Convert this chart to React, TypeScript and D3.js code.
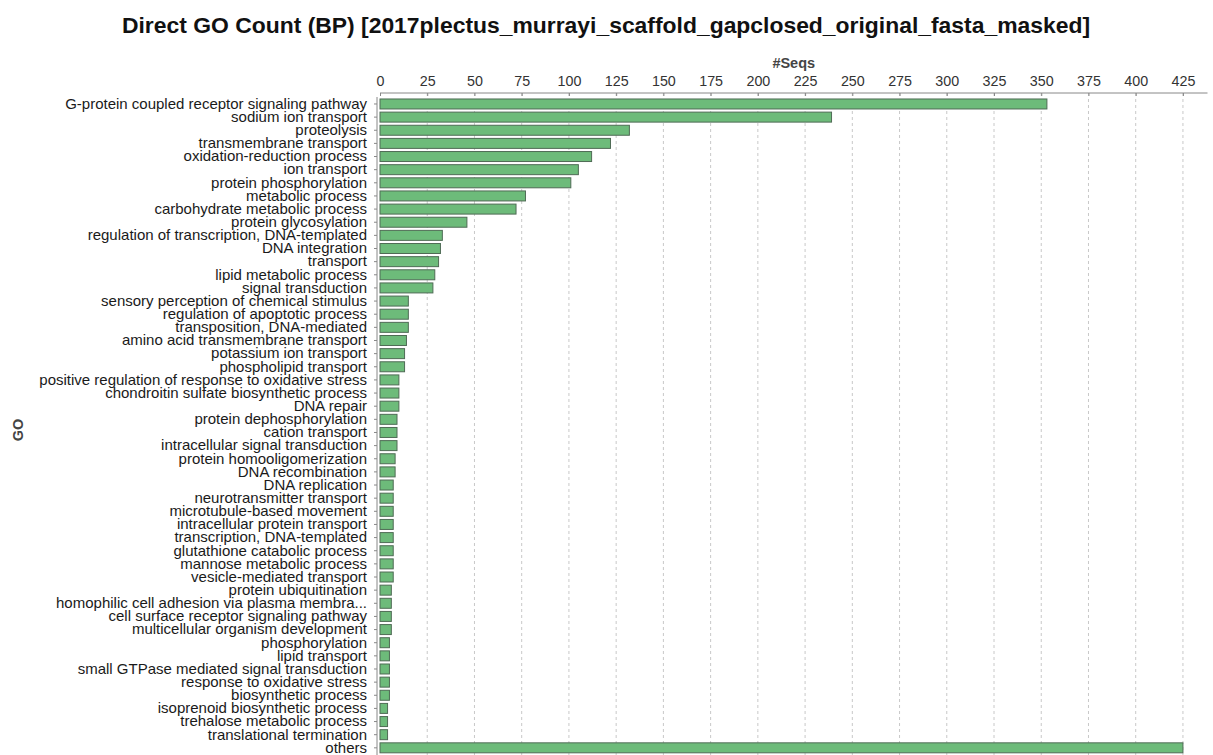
import { useEffect, useRef } from 'react';
import * as d3 from 'd3';

const chartTitle = 'Direct GO Count (BP) [2017plectus_murrayi_scaffold_gapclosed_original_fasta_masked]';

const categories = [
  'G-protein coupled receptor signaling pathway',
  'sodium ion transport',
  'proteolysis',
  'transmembrane transport',
  'oxidation-reduction process',
  'ion transport',
  'protein phosphorylation',
  'metabolic process',
  'carbohydrate metabolic process',
  'protein glycosylation',
  'regulation of transcription, DNA-templated',
  'DNA integration',
  'transport',
  'lipid metabolic process',
  'signal transduction',
  'sensory perception of chemical stimulus',
  'regulation of apoptotic process',
  'transposition, DNA-mediated',
  'amino acid transmembrane transport',
  'potassium ion transport',
  'phospholipid transport',
  'positive regulation of response to oxidative stress',
  'chondroitin sulfate biosynthetic process',
  'DNA repair',
  'protein dephosphorylation',
  'cation transport',
  'intracellular signal transduction',
  'protein homooligomerization',
  'DNA recombination',
  'DNA replication',
  'neurotransmitter transport',
  'microtubule-based movement',
  'intracellular protein transport',
  'transcription, DNA-templated',
  'glutathione catabolic process',
  'mannose metabolic process',
  'vesicle-mediated transport',
  'protein ubiquitination',
  'homophilic cell adhesion via plasma membra...',
  'cell surface receptor signaling pathway',
  'multicellular organism development',
  'phosphorylation',
  'lipid transport',
  'small GTPase mediated signal transduction',
  'response to oxidative stress',
  'biosynthetic process',
  'isoprenoid biosynthetic process',
  'trehalose metabolic process',
  'translational termination',
  'others',
];

const seqCounts = [
  353, 239, 132, 122, 112, 105, 101, 77, 72, 46,
  33, 32, 31, 29, 28, 15, 15, 15, 14, 13,
  13, 10, 10, 10, 9, 9, 9, 8, 8, 7,
  7, 7, 7, 7, 7, 7, 7, 6, 6, 6,
  6, 5, 5, 5, 5, 5, 4, 4, 4, 425,
];

const xTicks = [0, 25, 50, 75, 100, 125, 150, 175, 200, 225, 250, 275, 300, 325, 350, 375, 400, 425];

const W = 1213;
const H = 755;

export default function App() {
  const svgRef = useRef<SVGSVGElement>(null);

  useEffect(() => {
    document.body.style.margin = '0';
    if (!svgRef.current) return;
    const svg = d3.select(svgRef.current);
    svg.selectAll('*').remove();

    const font = '"Liberation Sans", Arial, sans-serif';
    const axisY = 93;
    const yAxisX = 377;

    const x = d3.scaleLinear().domain([0, 438]).range([380, 1207.5]);
    const y = d3.scaleBand<string>()
      .domain(categories)
      .range([97.4, 754.4])
      .paddingInner(0.24)
      .paddingOuter(0.12);

    // title
    svg.append('text')
      .attr('x', 606)
      .attr('y', 33)
      .attr('text-anchor', 'middle')
      .attr('font-family', font)
      .attr('font-size', 22.9)
      .attr('font-weight', 'bold')
      .attr('fill', '#111')
      .text(chartTitle);

    // x axis label
    svg.append('text')
      .attr('x', (x(0) + x(438)) / 2)
      .attr('y', 68)
      .attr('text-anchor', 'middle')
      .attr('font-family', font)
      .attr('font-size', 14.5)
      .attr('font-weight', 'bold')
      .attr('fill', '#444')
      .text('#Seqs');

    // y axis label
    svg.append('text')
      .attr('transform', `translate(23, 430) rotate(-90)`)
      .attr('text-anchor', 'middle')
      .attr('font-family', font)
      .attr('font-size', 14.5)
      .attr('font-weight', 'bold')
      .attr('fill', '#444')
      .text('GO');

    // grid
    svg.append('g')
      .selectAll('line')
      .data(xTicks.slice(1))
      .enter()
      .append('line')
      .attr('x1', d => x(d))
      .attr('x2', d => x(d))
      .attr('y1', axisY)
      .attr('y2', H)
      .attr('stroke', '#c8c8c8')
      .attr('stroke-width', 1)
      .attr('stroke-dasharray', '3,3');

    // top axis
    const xAxis = d3.axisTop(x).tickValues(xTicks).tickSize(-3).tickPadding(7);
    const gx = svg.append('g')
      .attr('transform', `translate(0, ${axisY})`)
      .call(xAxis);
    gx.select('.domain').attr('stroke', '#888').attr('d', `M${x(0)},0H${x(438)}`);
    gx.selectAll('.tick line').attr('stroke', '#888');
    gx.selectAll('.tick text')
      .attr('font-family', font)
      .attr('font-size', 14.3)
      .attr('fill', '#333');

    // left axis
    const yAxis = d3.axisLeft(y).tickSize(3).tickPadding(7);
    const gy = svg.append('g')
      .attr('transform', `translate(${yAxisX}, 0)`)
      .call(yAxis);
    gy.select('.domain').attr('stroke', '#888').attr('d', `M0,${axisY + 4}V${H}`);
    gy.selectAll('.tick line').attr('stroke', '#888');
    gy.selectAll('.tick text')
      .attr('font-family', font)
      .attr('font-size', 15)
      .attr('fill', '#1a1a1a');

    // bars
    svg.append('g')
      .selectAll('rect')
      .data(categories)
      .enter()
      .append('rect')
      .attr('x', x(0))
      .attr('y', d => y(d) as number)
      .attr('width', (d, i) => x(seqCounts[i]) - x(0))
      .attr('height', y.bandwidth())
      .attr('fill', '#6dbb7a')
      .attr('stroke', '#4f6b55')
      .attr('stroke-width', 1);
  }, []);

  return (
    <div style={{ position: 'absolute', left: 0, top: 0, width: W, height: H, background: '#fff' }}>
      <svg ref={svgRef} width={W} height={H} />
    </div>
  );
}
